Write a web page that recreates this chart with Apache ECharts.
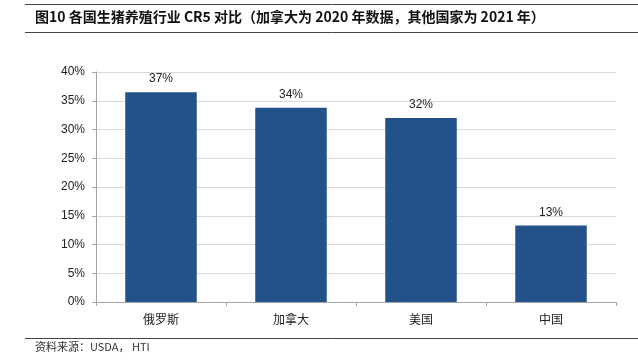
<!DOCTYPE html>
<html><head><meta charset="utf-8">
<script src="https://cdn.jsdelivr.net/npm/echarts@6/dist/echarts.min.js"></script>
<style>html,body{margin:0;padding:0;background:#fff}#c{width:638px;height:364px}</style>
</head><body><div id="c"></div>
<script>
const categories = ['俄罗斯', '加拿大', '美国', '中国'];
const values = [36.5, 33.8, 32.0, 13.3];
const valueLabels = ['37%', '34%', '32%', '13%'];
const yTicks = [0, 5, 10, 15, 20, 25, 30, 35, 40];
const titleText = '图10 各国生猪养殖行业 CR5 对比（加拿大为 2020 年数据，其他国家为 2021 年）';
const sourceText = '资料来源：USDA， HTI';

const chart = echarts.init(document.getElementById('c'), null, {renderer: 'canvas'});
chart.setOption({
  animation: false,
  backgroundColor: '#fff',
  grid: {left: 96, right: 22, top: 72, bottom: 62, containLabel: false},
  xAxis: {
    type: 'category', data: categories, boundaryGap: true,
    axisLine: {lineStyle: {color: '#a6a6a6', width: 1}},
    axisTick: {show: true, alignWithLabel: false, length: 4, lineStyle: {color: '#a6a6a6'}},
    axisLabel: {color: '#222', fontSize: 12, margin: 11, fontFamily: 'Noto Sans CJK SC'}
  },
  yAxis: {
    type: 'value', min: yTicks[0], max: yTicks[yTicks.length-1], interval: 5,
    axisLine: {show: true, lineStyle: {color: '#a6a6a6'}},
    axisTick: {show: true, length: 4, lineStyle: {color: '#a6a6a6'}},
    splitLine: {lineStyle: {color: '#d9d9d9'}},
    axisLabel: {color: '#222', fontSize: 12, margin: 11, fontFamily: 'Liberation Sans', formatter: v => v + '%'}
  },
  series: [{
    type: 'bar', data: values, barWidth: '55%',
    itemStyle: {color: '#23528A'},
    label: {show: true, position: 'top', distance: 7, color: '#222', fontSize: 12, fontFamily: 'Liberation Sans',
      formatter: p => valueLabels[p.dataIndex]}
  }],
  graphic: [
    {type: 'line', shape: {x1: 25, y1: 4.5, x2: 638, y2: 4.5}, style: {stroke: '#444', lineWidth: 1}},
    {type: 'text', x: 35, y: 17, style: {text: titleText, font: 'bold 14px "Noto Sans CJK SC"', fill: '#111', textVerticalAlign: 'middle'}},
    {type: 'line', shape: {x1: 25, y1: 32.5, x2: 638, y2: 32.5}, style: {stroke: '#444', lineWidth: 1}},
    {type: 'line', shape: {x1: 25, y1: 338.5, x2: 638, y2: 338.5}, style: {stroke: '#444', lineWidth: 1}},
    {type: 'text', x: 35, y: 347, style: {text: sourceText, font: '11px "Noto Sans CJK SC"', fill: '#333', textVerticalAlign: 'middle'}}
  ]
});
</script></body></html>
